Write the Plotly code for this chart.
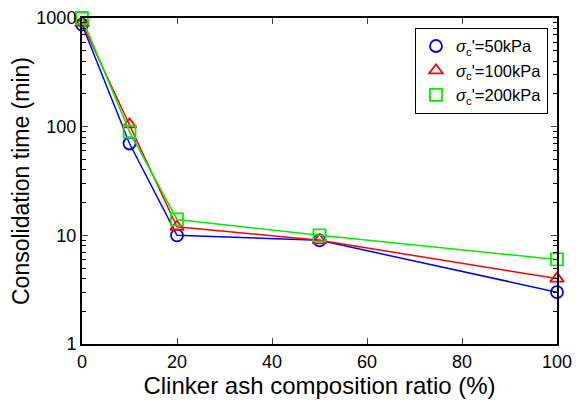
import plotly.graph_objects as go

ratio = [0, 10, 20, 50, 100]
t_50 = [870, 70, 10, 9, 3]
t_100 = [900, 105, 12, 9, 4]
t_200 = [1000, 90, 14, 10, 6]
names = ["<i>σ</i><sub>c</sub>'=50kPa", "<i>σ</i><sub>c</sub>'=100kPa", "<i>σ</i><sub>c</sub>'=200kPa"]
colors = ["#0000ff", "#ff0000", "#00ee00"]
symbols = ["circle-open", "triangle-up-open", "square-open"]

fig = go.Figure()
for ys, nm, c, s in zip([t_50, t_100, t_200], names, colors, symbols):
    fig.add_trace(go.Scatter(x=ratio, y=ys, name=nm, mode="lines+markers", showlegend=False,
                             cliponaxis=False,
                             line=dict(color=c, width=1.5),
                             marker=dict(symbol=s, size=12, color=c, line=dict(width=1.8, color=c))))
for nm, c, s in zip(names, colors, symbols):
    fig.add_trace(go.Scatter(x=[None], y=[None], name=nm, mode="markers",
                             marker=dict(symbol=s, size=12, color=c, line=dict(width=1.8, color=c))))

font = "Liberation Sans, Arial, sans-serif"
fig.update_layout(
    width=584, height=401,
    margin=dict(l=74, r=35, t=10, b=65),
    paper_bgcolor="white", plot_bgcolor="white",
    font=dict(family=font, size=18, color="black"),
    legend=dict(x=0.981, y=0.970, xanchor="right", yanchor="top",
                bordercolor="black", borderwidth=1, bgcolor="white",
                font=dict(size=16.5), itemwidth=30, tracegroupgap=0),
    xaxis=dict(range=[0, 100], dtick=20, tick0=0, ticks="inside", ticklen=6, tickwidth=1,
               showline=True, linewidth=2, linecolor="black", mirror="ticks",
               showgrid=False, zeroline=False, automargin=False, ticklabeloverflow="allow",
               title=dict(text="Clinker ash composition ratio (%)", font=dict(size=24), standoff=4)),
    yaxis=dict(type="log", range=[0, 3], dtick=1, ticks="inside", ticklen=6, tickwidth=1,
               showline=True, linewidth=2, linecolor="black", mirror="ticks",
               showgrid=False, zeroline=False, automargin=False, ticklabeloverflow="allow",
               minor=dict(ticks="inside", ticklen=4, tickcolor="black", showgrid=False),
               title=dict(text="Consolidation time (min)", font=dict(size=23), standoff=4)),
)
fig.write_html("out.html")
